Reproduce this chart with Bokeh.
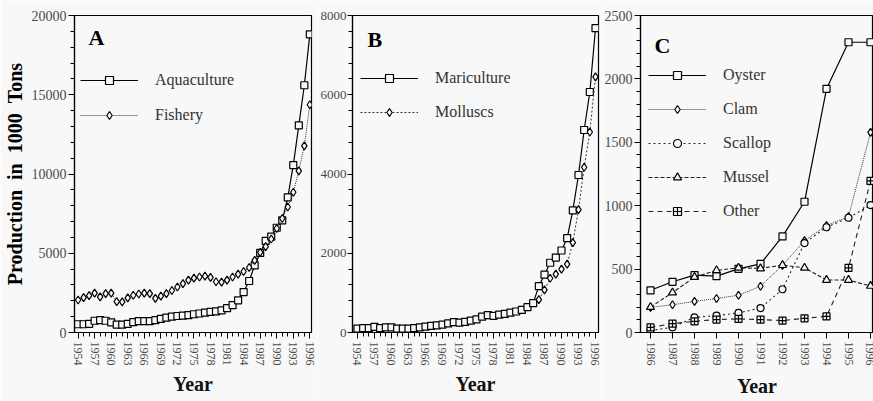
import math
from bokeh.plotting import figure
from bokeh.models import (Range1d, FixedTicker, NumeralTickFormatter, Legend,
                          LegendItem, Label, Title)
from bokeh.layouts import row
from bokeh.embed import file_html
from bokeh.resources import INLINE

# ---------------- data ----------------
years_ab = list(range(1954, 1997))
aquaculture = [520, 520, 540, 740, 780, 740, 640, 500, 500, 540,
               660, 720, 720, 720, 780, 860, 940, 1000, 1040, 1070,
               1100, 1150, 1200, 1250, 1300, 1330, 1400, 1540, 1730, 2030,
               2550, 3250, 4230, 5020, 5780, 6050, 6610, 7080, 8520, 10560,
               13070, 15600, 18810]
fishery = [2050, 2200, 2330, 2480, 2250, 2450, 2480, 1950, 1930, 2180,
           2350, 2430, 2480, 2450, 2150, 2300, 2450, 2650, 2870, 3080,
           3300, 3430, 3500, 3560, 3480, 3200, 3180, 3300, 3500, 3680,
           3850, 4100, 4550, 5060, 5420, 5900, 6560, 7190, 7920, 8850,
           10200, 11770, 14370]
mariculture = [100, 110, 110, 140, 110, 130, 130, 100, 100, 100,
               110, 130, 150, 165, 180, 200, 230, 260, 250, 270,
               300, 330, 400, 440, 420, 450, 470, 500, 530, 570,
               640, 740, 1170, 1460, 1760, 1890, 2070, 2380, 3080, 3975,
               5110, 6070, 7680]
mollusc_years = list(range(1986, 1997))
molluscs = [830, 1075, 1370, 1475, 1600, 1725, 2270, 3100, 4170, 5060, 6450]

years_c = list(range(1986, 1997))
oyster = [333, 400, 453, 445, 502, 541, 758, 1031, 1922, 2289, 2289]
clam = [198, 219, 245, 268, 294, 365, 530, 724, 844, 914, 1578]
scallop = [15, 41, 120, 133, 154, 193, 341, 705, 830, 905, 1005]
mussel = [200, 315, 437, 490, 510, 505, 531, 510, 414, 414, 367]
other = [40, 70, 88, 102, 107, 102, 94, 112, 127, 510, 1195]

ticks_a = list(range(1954, 1997, 3))
yticks_a = [0, 5000, 10000, 15000, 20000]
yticks_b = [0, 2000, 4000, 6000, 8000]
yticks_c = [0, 500, 1000, 1500, 2000, 2500]

SERIF = "Liberation Serif"
BG = "#f8f8f8"
H = 401


def make_fig(width, xr, yr, mbl, mbr, mbt, mbb, xmaj, xmin, ymaj, ymin_step):
    p = figure(width=width, height=H, x_range=Range1d(*xr), y_range=Range1d(*yr),
               output_backend="svg", toolbar_location=None,
               min_border_left=mbl, min_border_right=mbr,
               min_border_top=mbt, min_border_bottom=mbb)
    p.xgrid.visible = False
    p.ygrid.visible = False
    p.background_fill_color = BG
    p.border_fill_color = BG
    p.outline_line_color = "black"
    p.outline_line_width = 1.2
    yminor = list(range(yr[0], yr[1] + 1, ymin_step))
    p.xaxis.ticker = FixedTicker(ticks=xmaj, minor_ticks=xmin)
    p.yaxis.ticker = FixedTicker(ticks=ymaj, minor_ticks=yminor)
    for ax in (p.xaxis[0], p.yaxis[0]):
        ax.formatter = NumeralTickFormatter(format="0")
        ax.axis_line_color = "black"
        ax.axis_line_width = 1.2
        ax.major_tick_line_color = "black"
        ax.minor_tick_line_color = "black"
        ax.major_tick_in = 0
        ax.minor_tick_in = 0
        ax.major_tick_out = 6
        ax.minor_tick_out = 4
        ax.major_label_text_font = SERIF
        ax.major_label_text_color = "#4a4a4a"
    p.yaxis.major_label_text_font_size = "14px"
    p.yaxis.major_label_standoff = 2
    p.xaxis.major_label_text_font_size = "12px"
    p.xaxis.major_label_orientation = -math.pi / 2
    p.xaxis.major_label_standoff = 3
    return p


def add_legend(p, items, x, y, spacing):
    lg = Legend(items=items, location=(x, y), orientation="vertical",
                glyph_width=58, glyph_height=20, label_height=20,
                spacing=spacing, padding=0, margin=0, label_standoff=17,
                border_line_color=None, background_fill_alpha=0,
                label_text_font=SERIF, label_text_font_size="16px",
                label_text_color="#333333")
    p.add_layout(lg)


def add_letter(p, letter, x, y):
    p.add_layout(Label(x=x, y=y, x_units="screen", y_units="screen", text=letter,
                       text_font=SERIF, text_font_size="22px", text_font_style="bold",
                       text_color="black", text_baseline="alphabetic"))


def add_year(p, offset, standoff):
    p.add_layout(Title(text="Year", align="center", offset=offset, standoff=standoff,
                       text_font=SERIF, text_font_size="20px", text_font_style="bold",
                       text_color="#111111"), "below")


def series(p, xs, ys, marker, size, dash, lw=1.2, color="black"):
    l = p.line(xs, ys, line_color=color, line_width=lw, line_dash=dash)
    s = p.scatter(xs, ys, marker=marker, size=size, fill_color=BG,
                  line_color="black", line_width=1.2)
    return [l, s]


# ---------------- panel A ----------------
pa = make_fig(317, (1953.35, 1996.3), (0, 20000), 68, 6, 15, 66,
              ticks_a, years_ab, yticks_a, 1000)
pa.yaxis.axis_label = "Production\u2002in\u20021000\u2002Tons"
pa.yaxis.axis_label_text_font = SERIF
pa.yaxis.axis_label_text_font_size = "20px"
pa.yaxis.axis_label_text_font_style = "bold"
pa.yaxis.axis_label_text_color = "black"
pa.yaxis.axis_label_standoff = 3
ra = series(pa, years_ab, aquaculture, "square", 7, "solid")
rf = series(pa, years_ab, fishery, "diamond", 8, "1 1", 1.0, "#333333")
add_legend(pa, [LegendItem(label="Aquaculture", renderers=ra),
                LegendItem(label="Fishery", renderers=rf)], 6, 207, 15)
add_letter(pa, "A", 14, 295)
add_year(pa, -25, 4)

# ---------------- panel B ----------------
pb = make_fig(284, (1953.12, 1996.53), (0, 8000), 35, 3, 14, 67,
              ticks_a, years_ab, yticks_b, 400)
pb.yaxis.major_label_text_font_size = "13px"
pb.yaxis.major_tick_out = 5
pb.yaxis.major_label_standoff = 1
rm = series(pb, years_ab, mariculture, "square", 7, "solid")
rmo = series(pb, mollusc_years, molluscs, "diamond", 8, "2 2", 1.0, "#333333")
add_legend(pb, [LegendItem(label="Mariculture", renderers=rm),
                LegendItem(label="Molluscs", renderers=rmo)], 8, 210, 14)
add_letter(pb, "B", 15, 293)
add_year(pb, -5, 5)

# ---------------- panel C ----------------
pc = make_fig(272, (1985.545, 1996.136), (0, 2500), 39, 0, 12, 69,
              years_c, [], yticks_c, 100)
ro = series(pc, years_c, oyster, "square", 7, "solid")
rc = series(pc, years_c, clam, "diamond", 8, "1 1", 1.0, "#333333")
rs = series(pc, years_c, scallop, "circle", 7, "2 3", 1.1, "#222222")
rmu = series(pc, years_c, mussel, "triangle", 8, "4 2", 1.1, "#222222")
rot = series(pc, years_c, other, "square_cross", 7, "5 4", 1.1, "#222222")
add_legend(pc, [LegendItem(label="Oyster", renderers=ro),
                LegendItem(label="Clam", renderers=rc),
                LegendItem(label="Scallop", renderers=rs),
                LegendItem(label="Mussel", renderers=rmu),
                LegendItem(label="Other", renderers=rot)], 8, 111, 14)
add_letter(pc, "C", 14, 287)
add_year(pc, 0, 8)

layout = row(pa, pb, pc, spacing=0)
open("out.html", "w").write(file_html(layout, INLINE))
